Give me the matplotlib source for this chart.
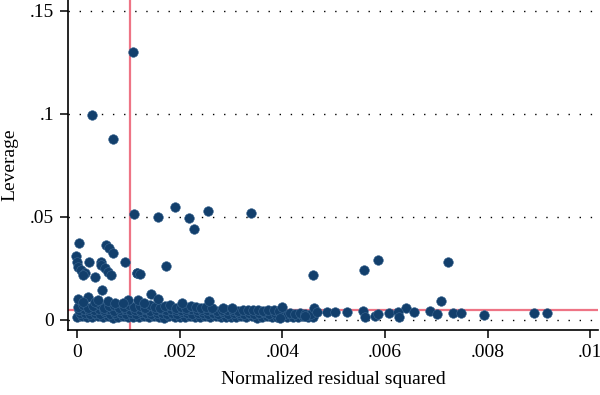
import numpy as np
import matplotlib.pyplot as plt

# leverage vs normalized residual squared (lvr2plot style)
# dense band near the bottom, typed row by row
row1_x = [0.00000, 0.00010, 0.00020, 0.00030, 0.00040, 0.00050, 0.00060, 0.00070, 0.00080, 0.00090,
          0.00100, 0.00110, 0.00120, 0.00130, 0.00140, 0.00150, 0.00160, 0.00170, 0.00180, 0.00190,
          0.00200, 0.00210, 0.00220, 0.00230, 0.00240, 0.00250, 0.00260, 0.00270, 0.00280, 0.00290,
          0.00300, 0.00310, 0.00320, 0.00330, 0.00340, 0.00350, 0.00360, 0.00370, 0.00380, 0.00390,
          0.00400, 0.00410, 0.00420, 0.00430, 0.00440, 0.00450, 0.00460]
row1_y = [0.0014, 0.0018, 0.0012, 0.0016, 0.0019, 0.0013, 0.0017, 0.0011, 0.0015, 0.0018,
          0.0012, 0.0016, 0.0014, 0.0019, 0.0013, 0.0017, 0.0015, 0.0011, 0.0018, 0.0014,
          0.0016, 0.0012, 0.0019, 0.0015, 0.0013, 0.0017, 0.0014, 0.0018, 0.0012, 0.0016,
          0.0015, 0.0013, 0.0018, 0.0014, 0.0017, 0.0011, 0.0016, 0.0019, 0.0013, 0.0015,
          0.0017, 0.0012, 0.0016, 0.0014, 0.0018, 0.0013, 0.0015]

row2_x = [0.00005, 0.00015, 0.00025, 0.00035, 0.00045, 0.00055, 0.00065, 0.00075, 0.00085, 0.00095,
          0.00105, 0.00115, 0.00125, 0.00135, 0.00145, 0.00155, 0.00165, 0.00175, 0.00185, 0.00195,
          0.00205, 0.00215, 0.00225, 0.00235, 0.00245, 0.00255, 0.00265, 0.00275, 0.00285, 0.00295,
          0.00305, 0.00315, 0.00325, 0.00335, 0.00345, 0.00355, 0.00365, 0.00375, 0.00385, 0.00395,
          0.00405, 0.00415, 0.00425, 0.00435, 0.00445, 0.00455]
row2_y = [0.0032, 0.0035, 0.0030, 0.0034, 0.0031, 0.0036, 0.0029, 0.0033, 0.0035, 0.0030,
          0.0034, 0.0031, 0.0036, 0.0032, 0.0029, 0.0035, 0.0033, 0.0030, 0.0034, 0.0031,
          0.0036, 0.0032, 0.0030, 0.0035, 0.0033, 0.0029, 0.0034, 0.0031, 0.0036, 0.0030,
          0.0033, 0.0035, 0.0031, 0.0034, 0.0029, 0.0032, 0.0036, 0.0030, 0.0033, 0.0035,
          0.0031, 0.0034, 0.0030, 0.0032, 0.0029, 0.0031]

row3_x = [0.00003, 0.00013, 0.00023, 0.00033, 0.00043, 0.00053, 0.00063, 0.00073, 0.00083, 0.00093,
          0.00103, 0.00113, 0.00123, 0.00133, 0.00143, 0.00153, 0.00163, 0.00173, 0.00183, 0.00193,
          0.00203, 0.00213, 0.00223, 0.00233, 0.00243, 0.00253, 0.00263, 0.00273, 0.00283, 0.00293,
          0.00303, 0.00313, 0.00323, 0.00333, 0.00343, 0.00353, 0.00363, 0.00373, 0.00383, 0.00393]
row3_y = [0.0048, 0.0052, 0.0046, 0.0050, 0.0054, 0.0047, 0.0051, 0.0045, 0.0049, 0.0053,
          0.0046, 0.0050, 0.0048, 0.0052, 0.0045, 0.0049, 0.0053, 0.0047, 0.0051, 0.0046,
          0.0050, 0.0048, 0.0054, 0.0046, 0.0049, 0.0047, 0.0052, 0.0045, 0.0048, 0.0046,
          0.0050, 0.0045, 0.0047, 0.0049, 0.0046, 0.0048, 0.0045, 0.0047, 0.0046, 0.0044]

row4_x = [0.00002, 0.00012, 0.00022, 0.00032, 0.00042, 0.00052, 0.00062, 0.00072, 0.00082, 0.00092,
          0.00102, 0.00112, 0.00122, 0.00132, 0.00142, 0.00152, 0.00162, 0.00172, 0.00182, 0.00192,
          0.00202, 0.00212, 0.00222, 0.00232, 0.00242, 0.00252, 0.00264, 0.00285, 0.00302]
row4_y = [0.0062, 0.0070, 0.0058, 0.0066, 0.0075, 0.0060, 0.0068, 0.0072, 0.0057, 0.0064,
          0.0070, 0.0061, 0.0067, 0.0058, 0.0073, 0.0063, 0.0059, 0.0066, 0.0071, 0.0060,
          0.0064, 0.0058, 0.0069, 0.0062, 0.0057, 0.0065, 0.0060, 0.0058, 0.0056]

# scattered points just above the band
upper_x = [0.00002, 0.00022, 0.00048, 0.00012, 0.00035, 0.00060, 0.00075, 0.00099, 0.00118, 0.00144,
           0.00158, 0.00257, 0.00090, 0.00130, 0.00205, 0.00040, 0.00400, 0.00640]
upper_y = [0.0102, 0.0113, 0.0146, 0.0085, 0.0088, 0.0090, 0.0084, 0.0097, 0.0097, 0.0128,
           0.0100, 0.0094, 0.0082, 0.0083, 0.0080, 0.0095, 0.0062, 0.0058]

# right tail
tail_x = [0.00396, 0.00444, 0.00461, 0.00467, 0.00487, 0.00503, 0.00526, 0.00558, 0.00561,
          0.00581, 0.00587, 0.00607, 0.00626, 0.00628, 0.00657, 0.00688, 0.00702, 0.00732, 0.00748,
          0.00793, 0.00890, 0.00916, 0.00709]
tail_y = [0.0008, 0.0019, 0.0057, 0.0036, 0.0040, 0.0036, 0.0036, 0.0045, 0.0016,
          0.0019, 0.0029, 0.0032, 0.0036, 0.0013, 0.0040, 0.0042, 0.0029, 0.0032, 0.0032,
          0.0023, 0.0032, 0.0032, 0.0094]

# high leverage / high residual outliers
out_x = [0.00109, 0.00029, 0.00070, 0.00111, 0.00116, 0.00158, 0.00191, 0.00218, 0.00228, 0.00255,
         0.00339, 0.00459, 0.00559, 0.00586, 0.00722,
         0.00003, 0.00057, 0.00062, 0.00070, -0.00001, 0.00000, 0.00023, 0.00046, 0.00047, 0.00093,
         0.00002, 0.00008, 0.00015, 0.00012, 0.00054, 0.00060, 0.00067, 0.00035, 0.00116, 0.00122,
         0.00173]
out_y = [0.1300, 0.0995, 0.0879, 0.0515, 0.0228, 0.0500, 0.0549, 0.0495, 0.0442, 0.0529,
         0.0520, 0.0217, 0.0243, 0.0290, 0.0283,
         0.0372, 0.0364, 0.0348, 0.0324, 0.0310, 0.0283, 0.0283, 0.0283, 0.0267, 0.0280,
         0.0259, 0.0243, 0.0230, 0.0218, 0.0251, 0.0234, 0.0218, 0.0207, 0.0230, 0.0223,
         0.0262]

mean_resid = 0.00103   # vertical reference line
mean_lev = 0.0049      # horizontal reference line

xs = np.array(row1_x + row2_x + row3_x + row4_x + upper_x + tail_x + out_x)
ys = np.array(row1_y + row2_y + row3_y + row4_y + upper_y + tail_y + out_y)

plt.rcParams['font.family'] = ['Liberation Serif', 'DejaVu Serif']

fig = plt.figure(figsize=(6, 3.95), dpi=100)
ax = fig.add_axes([68 / 600, 1 - 330 / 395, 530 / 600, 330 / 395])

ax.set_xlim(-0.000175, 0.01015)
ax.set_ylim(-0.0049, 0.1553)

yticks = [0, 0.05, 0.1, 0.15]
for t in yticks:
    ax.axhline(t, color='black', lw=1.0, ls=(0, (1, 7)), zorder=1)

ax.axvline(mean_resid, color='#ee7485', lw=1.6, zorder=2)
ax.axhline(mean_lev, color='#ee7485', lw=1.6, zorder=2)

ax.scatter(xs, ys, s=48, color='#123f6c', edgecolors='#3b6690', linewidths=0.4, zorder=3)

ax.set_yticks(yticks)
ax.set_yticklabels(['0', '.05', '.1', '.15'])
ax.set_xticks([0, 0.002, 0.004, 0.006, 0.008, 0.01])
ax.set_xticklabels(['0', '.002', '.004', '.006', '.008', '.01'])

for s in ['top', 'right']:
    ax.spines[s].set_visible(False)
for s in ['left', 'bottom']:
    ax.spines[s].set_linewidth(1.2)
    ax.spines[s].set_color('black')

ax.tick_params(axis='both', direction='out', length=6, width=1.1, labelsize=14, pad=4)
ax.set_xlabel('Normalized residual squared', fontsize=14, labelpad=7)
ax.set_ylabel('Leverage', fontsize=14, labelpad=8)

fig.savefig('out.png', dpi=100)
